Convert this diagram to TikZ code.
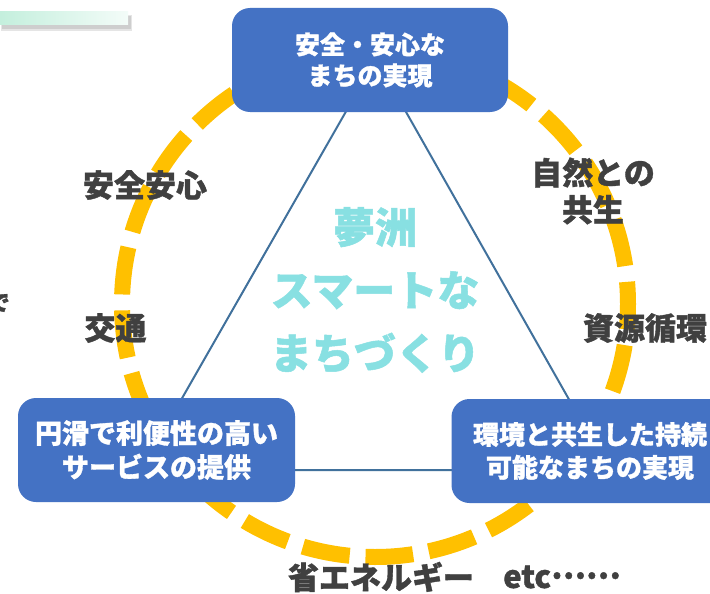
\documentclass[tikz,border=0pt]{standalone}
\usepackage{fontspec}
\setmainfont{Noto Sans CJK JP}[BoldFeatures={FakeBold=1.2}]
\definecolor{boxblue}{HTML}{4472C4}
\definecolor{ringyellow}{HTML}{FFC000}
\definecolor{trib}{HTML}{41719C}
\definecolor{labgray}{HTML}{404040}
\definecolor{titlecyan}{HTML}{88E0E2}
\definecolor{mint}{HTML}{C4EFDD}
\begin{document}
\begin{tikzpicture}[x=1pt,y=-1pt,
  box/.style={fill=boxblue, rounded corners=18pt, draw=none, inner sep=0pt,
    minimum width=277pt, minimum height=104pt, text=white, align=center,
    font=\bfseries\fontsize{27}{34}\selectfont},
  lab/.style={text=labgray, align=center, inner sep=0pt,
    font=\bfseries\fontsize{31}{37}\selectfont},
  ring/.style={draw=ringyellow, line width=16pt,
    dash pattern=on 47.7pt off 15.9pt, dash phase=25.5pt},
  triline/.style={draw=trib, line width=2pt}]
\useasboundingbox (0,0) rectangle (710,594);
\fill[white] (0,0) rectangle (710,594);
% top-left bar with shadow
\fill[black!35, opacity=0.5] (2,16) rectangle (131,29);
\fill[black!20, opacity=0.5] (1,15) rectangle (132,31);
\shade[left color=mint, right color=mint!20] (0,12) rectangle (128,25);
% dashed ring
\coordinate (ctr) at (375,304);
\draw[ring] (ctr) circle [radius=253pt];
% triangle
\coordinate (A) at (376,59);
\coordinate (B) at (141,470);
\coordinate (C) at (609,470);
\draw[triline] (A) -- (B) -- (C) -- cycle;
% boxes
\node[box, minimum width=276pt, font=\bfseries\fontsize{25}{31}\selectfont] (top) at (370,60) {安全・安心な\\まちの実現};
\node[box] (left) at (156.5,450) {円滑で利便性の高い\\サービスの提供};
\node[box, font=\bfseries\fontsize{26}{33}\selectfont] (right) at (590,451) {環境と共生した持続\\可能なまちの実現};
% title
\node[text=titlecyan, align=center, inner sep=0pt,
  font=\bfseries\fontsize{42}{63}\selectfont] (title) at (375,290)
  {夢洲\\スマートな\\まちづくり};
% labels
\node[lab] (l1) at (145,185) {安全安心};
\node[lab] (l2) at (115.5,328) {交通};
\node[lab] (l3) at (593,191) {自然との\\共生};
\node[lab] (l4) at (645,328) {資源循環};
\node[lab] (l5) at (381,577) {省エネルギー};
\node[lab, anchor=west] (l6) at (503,577) {etc\raisebox{0.3em}{……}};
% cut-off text at left edge
\node[text=labgray, inner sep=0pt, anchor=east,
  font=\bfseries\fontsize{22}{22}\selectfont] (de) at (10,303) {で};
\end{tikzpicture}
\end{document}
